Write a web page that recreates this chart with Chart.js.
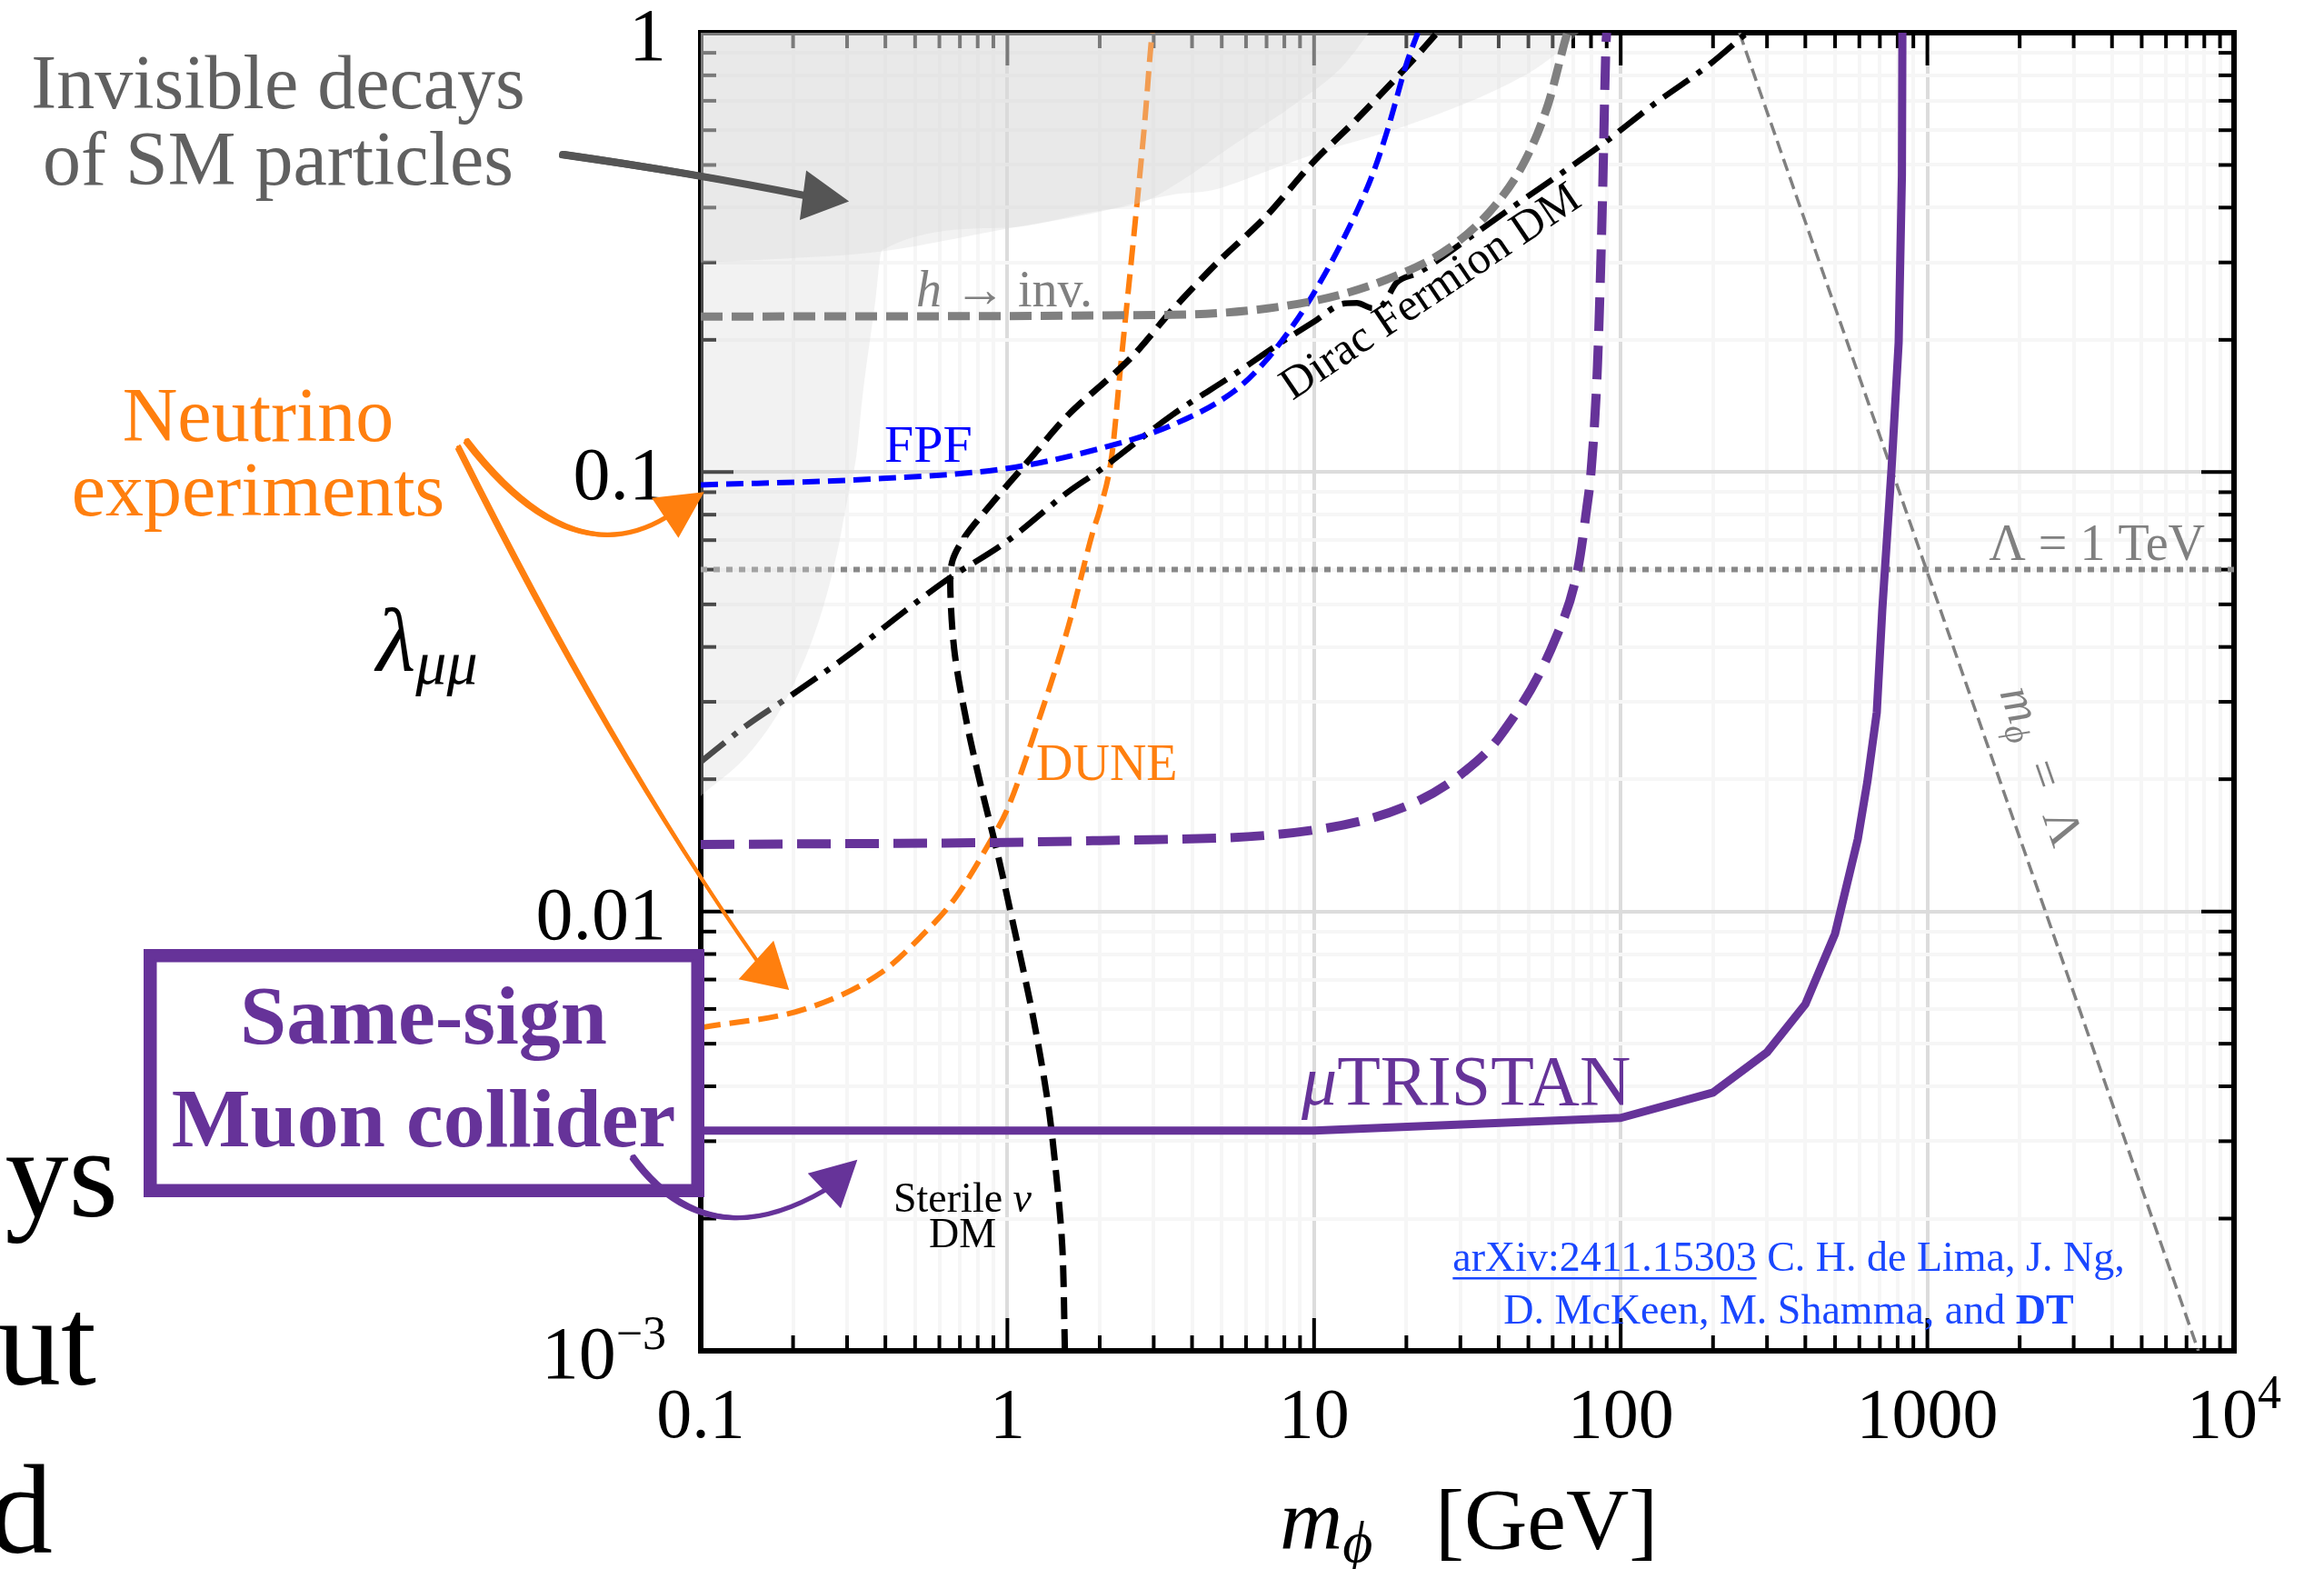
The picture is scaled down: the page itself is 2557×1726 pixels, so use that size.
<!DOCTYPE html>
<html>
<head>
<meta charset="utf-8">
<script src="https://cdn.jsdelivr.net/npm/chart.js@4.4.1/dist/chart.umd.min.js"></script>
<style>
  html, body { margin: 0; padding: 0; background: #fff; overflow: hidden; }
</style>
</head>
<body>
<canvas id="c" width="2557" height="1726"></canvas>
<script>
// axis ticks
const xTickValues = [0.1, 1, 10, 100, 1000, 10000];
const xTickLabels = ['0.1', '1', '10', '100', '1000', '10^4'];
const yTickValues = [0.001, 0.01, 0.1, 1];
const yTickLabels = ['10^-3', '0.01', '0.1', '1'];

// m_phi [GeV] / lambda_mumu
const hInvMass   = [0.1, 3.45, 9.9, 17.4, 27.5, 38.9, 49, 58, 66, 67];
const hInvLambda = [0.226, 0.228, 0.245, 0.275, 0.323, 0.404, 0.515, 0.688, 0.965, 1];

const fpfMass   = [0.1, 0.315, 1, 1.99, 3.45, 5.5, 6.9, 8.67, 9.9, 12.3, 15.5, 17.4, 20, 21.8];
const fpfLambda = [0.0935, 0.096, 0.102, 0.113, 0.128, 0.153, 0.178, 0.219, 0.253, 0.333, 0.475, 0.604, 0.848, 1];

const duneMass   = [0.1, 0.221, 0.389, 0.521, 0.674, 0.887, 1.0, 1.26, 1.58, 1.9, 2.0, 2.19, 2.34, 2.63, 2.81, 2.95, 2.97];
const duneLambda = [0.00544, 0.00601, 0.00727, 0.00875, 0.0107, 0.0146, 0.0171, 0.027, 0.0445, 0.0732, 0.082, 0.109, 0.174, 0.391, 0.636, 0.965, 1];

const sterileMass   = [1.54, 1.51, 1.43, 1.35, 1.21, 1.02, 0.93, 0.83, 0.74, 0.674, 0.652, 0.66, 0.724, 0.887, 1.17, 1.58, 2.51, 3.45, 4.89, 6.9, 9.9, 13.8, 20.9, 25.2];
const sterileLambda = [0.001, 0.00173, 0.00268, 0.00374, 0.0058, 0.0101, 0.0135, 0.0186, 0.0265, 0.0384, 0.053, 0.0624, 0.071, 0.0847, 0.106, 0.135, 0.181, 0.234, 0.302, 0.379, 0.506, 0.636, 0.863, 1];

const diracMass   = [0.1, 0.141, 0.198, 0.315, 0.446, 0.627, 1.0, 1.58, 2.0, 3.45, 5.5, 7.7, 9.9, 12.6, 13.8, 15.5, 16.7, 18.6, 21.8, 34.7, 43.7, 63, 87, 128.5, 195, 258];
const diracLambda = [0.0219, 0.0265, 0.0311, 0.0391, 0.0473, 0.0565, 0.0697, 0.0902, 0.101, 0.135, 0.167, 0.196, 0.219, 0.242, 0.2426, 0.236, 0.2397, 0.27, 0.284, 0.355, 0.398, 0.475, 0.557, 0.688, 0.847, 1];

const sameSignMass   = [0.1, 2, 9.85, 20.9, 30.9, 40.3, 61.5, 72.4, 77.6, 80, 84, 87, 89.5, 90];
const sameSignLambda = [0.0142, 0.0145, 0.0153, 0.0176, 0.0208, 0.025, 0.042, 0.06, 0.0834, 0.1, 0.175, 0.391, 0.935, 1];

const tristanMass   = [0.1, 10, 100, 200, 300, 400, 500, 593, 637, 684, 713, 764, 806, 826, 829];
const tristanLambda = [0.00317, 0.00317, 0.00339, 0.00387, 0.00478, 0.00615, 0.0089, 0.0146, 0.0197, 0.0284, 0.0487, 0.1016, 0.197, 0.473, 1];

const lambdaTeVMass   = [0.1, 10000];
const lambdaTeVLambda = [0.06, 0.06];

const mEqLambdaMass   = [244, 7650];
const mEqLambdaLambda = [1, 0.001];

// shaded "invisible decays" regions (lower edge, filled up to 1)
const invUpperMass   = [0.1, 0.17, 0.39, 1, 1.8, 3.45, 4.65, 6.9, 10.9, 17.4, 27.5, 43.7, 55.6, 69.4, 73];
const invUpperLambda = [0.30, 0.305, 0.318, 0.358, 0.385, 0.428, 0.438, 0.482, 0.54, 0.595, 0.667, 0.769, 0.848, 0.965, 1];
const invLeftMass   = [0.1, 0.147, 0.198, 0.25, 0.281, 0.3, 0.322, 0.337, 0.37, 0.39, 1, 1.78, 2.8, 3.6, 5.5, 8.67, 12.3, 15.1];
const invLeftLambda = [0.0183, 0.0233, 0.0322, 0.0489, 0.0676, 0.086, 0.1094, 0.1487, 0.2415, 0.32, 0.36, 0.388, 0.413, 0.455, 0.557, 0.688, 0.834, 1];

const PURPLE = '#663399';
const ORANGE = '#ff7f0e';
const SHADE = 'rgba(217,217,217,0.34)';
const SERIF = '"Liberation Serif", "DejaVu Serif", serif';
const F = (size, style) => (style || '') + ' ' + size + 'px ' + SERIF;

function logTicks(lo, hi) {
  const out = [];
  for (let e = lo; e < hi; e++)
    for (let k = 1; k < 10; k++) out.push(+(k * Math.pow(10, e)).toPrecision(3));
  out.push(Math.pow(10, hi));
  return out;
}
const isMajor = v => Math.abs(Math.log10(v) - Math.round(Math.log10(v))) < 1e-9;

function series(label, xs, ys, style) {
  return Object.assign({
    label,
    data: xs.map((x, i) => ({ x, y: ys[i] })),
    pointRadius: 0,
    borderCapStyle: 'butt',
    fill: false,
    clip: 0,
    cubicInterpolationMode: 'monotone'
  }, style);
}

// frame and inward ticks, under the curves
const frameTicks = {
  id: 'frameTicks',
  beforeDatasetsDraw(chart) {
    const { ctx, chartArea: a, scales: { x, y } } = chart;
    ctx.save();
    ctx.strokeStyle = '#000';
    ctx.lineWidth = 4;
    const seg = (x0, y0, x1, y1) => { ctx.beginPath(); ctx.moveTo(x0, y0); ctx.lineTo(x1, y1); ctx.stroke(); };
    x.ticks.forEach(t => {
      const px = x.getPixelForValue(t.value);
      const L = isMajor(t.value) ? 36 : 17;
      seg(px, a.bottom, px, a.bottom - L);
      seg(px, a.top, px, a.top + L);
    });
    y.ticks.forEach(t => {
      const py = y.getPixelForValue(t.value);
      const L = isMajor(t.value) ? 36 : 17;
      seg(a.left, py, a.left + L, py);
      seg(a.right, py, a.right - L, py);
    });
    ctx.lineWidth = 6;
    ctx.strokeRect(a.left, a.top, a.right - a.left, a.bottom - a.top);
    ctx.restore();
  }
};

function drawRuns(ctx, x, y, parts, align) {
  let w = 0;
  parts.forEach(p => { ctx.font = p[1]; w += ctx.measureText(p[0]).width; });
  let cx = align === 'center' ? x - w / 2 : align === 'right' ? x - w : x;
  ctx.textAlign = 'left';
  parts.forEach(p => {
    ctx.font = p[1];
    ctx.fillText(p[0], cx, y + (p[2] || 0));
    cx += ctx.measureText(p[0]).width;
  });
  return w;
}

function tickLabel(ctx, txt, x, y, align, size) {
  const [base, exp] = txt.split('^');
  const parts = [[base, F(size)]];
  if (exp) parts.push([exp.replace('-', '\u2212'), F(52), -32]);
  drawRuns(ctx, x, y, parts, align);
}

function sketchArrow(ctx, p0, c, p2, tip, half, color, width) {
  ctx.strokeStyle = color;
  ctx.fillStyle = color;
  ctx.lineCap = 'round';
  [[0, 0, width], [2, -2, width * 0.5], [-2, 2, width * 0.5]].forEach(([ox, oy, lw]) => {
    ctx.lineWidth = lw;
    ctx.beginPath();
    ctx.moveTo(p0[0] + ox, p0[1] + oy);
    ctx.quadraticCurveTo(c[0] + ox, c[1] + oy, p2[0], p2[1]);
    ctx.stroke();
  });
  const dx = tip[0] - p2[0], dy = tip[1] - p2[1], L = Math.hypot(dx, dy);
  const nx = -dy / L, ny = dx / L;
  ctx.beginPath();
  ctx.moveTo(tip[0], tip[1]);
  ctx.lineTo(p2[0] + nx * half, p2[1] + ny * half);
  ctx.lineTo(p2[0] - nx * half, p2[1] - ny * half);
  ctx.closePath();
  ctx.fill();
  ctx.lineWidth = 3;
  ctx.stroke();
}

const annotations = {
  id: 'annotations',
  afterDraw(chart) {
    const { ctx, scales: { x, y } } = chart;
    ctx.save();
    ctx.textBaseline = 'alphabetic';

    // tick labels
    ctx.fillStyle = '#000';
    xTickValues.forEach((v, i) => tickLabel(ctx, xTickLabels[i], x.getPixelForValue(v), 1581, 'center', 78));
    yTickValues.forEach((v, i) => tickLabel(ctx, yTickLabels[i], 733, y.getPixelForValue(v) + 30, 'right', 82));

    // axis titles
    drawRuns(ctx, 414, 738, [['\u03bb', F(100, 'italic')], ['\u03bc\u03bc', F(68, 'italic'), 14]], 'left');
    drawRuns(ctx, 1408, 1704, [['m', F(96, 'italic')], ['\u03d5', F(64, 'italic'), 14]], 'left');
    drawRuns(ctx, 1579, 1704, [['[GeV]', F(96)]], 'left');

    // text cut off at the left edge
    ctx.font = F(140);
    ctx.textAlign = 'right';
    ctx.fillText('ys', 130, 1338);
    ctx.fillText('ut', 106, 1523);
    ctx.fillText('d', 58, 1708);

    // curve labels inside the plot
    ctx.fillStyle = '#808080';
    drawRuns(ctx, 1008, 337, [['h', F(56, 'italic')], [' \u2192 inv.', F(56)]], 'left');
    ctx.font = F(56);
    ctx.textAlign = 'right';
    ctx.fillText('\u039b = 1 TeV', 2426, 616);

    ctx.fillStyle = '#0000ff';
    ctx.font = F(58);
    ctx.textAlign = 'left';
    ctx.fillText('FPF', 973, 508);

    ctx.fillStyle = ORANGE;
    ctx.font = F(56);
    ctx.fillText('DUNE', 1140, 858);

    ctx.fillStyle = '#000';
    drawRuns(ctx, 1059, 1333, [['Sterile ', F(46)], ['\u03bd', F(46, 'italic')]], 'center');
    drawRuns(ctx, 1059, 1372, [['DM', F(46)]], 'center');

    ctx.save();
    ctx.translate(1422, 441);
    ctx.rotate(-34 * Math.PI / 180);
    drawRuns(ctx, 0, 0, [['Dirac Fermion DM', F(50)]], 'left');
    ctx.restore();

    ctx.save();
    ctx.fillStyle = '#808080';
    ctx.translate(2200, 762);
    ctx.rotate(70.8 * Math.PI / 180);
    drawRuns(ctx, 0, 0, [['m', F(54, 'italic')], ['\u03d5', F(38, 'italic'), 9], ['  =  \u039b', F(54)]], 'left');
    ctx.restore();

    ctx.fillStyle = PURPLE;
    drawRuns(ctx, 1432, 1215, [['\u03bc', F(78, 'italic')], ['TRISTAN', F(78)]], 'left');

    // citation
    ctx.fillStyle = '#1a47ff';
    const w1 = drawRuns(ctx, 1968, 1398, [['arXiv:2411.15303', F(46)], [' C. H. de Lima, J. Ng,', F(46)]], 'center');
    ctx.font = F(46);
    const wArx = ctx.measureText('arXiv:2411.15303').width;
    ctx.fillRect(1968 - w1 / 2, 1405, wArx, 2.5);
    drawRuns(ctx, 1968, 1456, [['D. McKeen, M. Shamma, and ', F(46)], ['DT', F(46, 'bold')]], 'center');

    // side notes
    ctx.fillStyle = '#606060';
    drawRuns(ctx, 306, 119, [['Invisible decays', F(84)]], 'center');
    drawRuns(ctx, 306, 203, [['of SM particles', F(84)]], 'center');
    ctx.fillStyle = ORANGE;
    drawRuns(ctx, 284, 485, [['Neutrino', F(84)]], 'center');
    drawRuns(ctx, 284, 567, [['experiments', F(84)]], 'center');

    // arrows
    sketchArrow(ctx, [619, 170], [760, 190], [885, 215], [931, 221], 25, '#555555', 8);
    sketchArrow(ctx, [513, 485], [627, 633], [733, 569], [772, 543], 24, ORANGE, 5);
    sketchArrow(ctx, [504, 492], [671, 826], [833, 1057], [866, 1087], 26, ORANGE, 4);
    sketchArrow(ctx, [696, 1273], [778, 1385], [908, 1309], [941, 1278], 24, PURPLE, 5);

    // same-sign muon collider box
    ctx.strokeStyle = PURPLE;
    ctx.lineWidth = 14;
    ctx.lineCap = 'butt';
    ctx.strokeRect(165, 1051, 603, 259);
    ctx.lineWidth = 3;
    ctx.strokeRect(160, 1046, 613, 269);
    ctx.strokeRect(171, 1057, 591, 247);
    ctx.fillStyle = PURPLE;
    drawRuns(ctx, 466, 1148, [['Same-sign', F(92, 'bold')]], 'center');
    drawRuns(ctx, 466, 1261, [['Muon collider', F(92, 'bold')]], 'center');

    ctx.restore();
  }
};

const gridColor = c => isMajor(c.tick.value) ? '#dcdcdc' : '#f6f6f6';

new Chart(document.getElementById('c'), {
  type: 'line',
  data: {
    datasets: [
      series('invisible decays (upper)', invUpperMass, invUpperLambda,
        { fill: 'end', backgroundColor: SHADE, borderColor: 'rgba(0,0,0,0)', borderWidth: 0, order: 4 }),
      series('Sterile nu DM', sterileMass, sterileLambda,
        { borderColor: '#000', borderWidth: 7, borderDash: [24, 11], cubicInterpolationMode: 'default', tension: 0.3, order: 3 }),
      series('Dirac Fermion DM', diracMass, diracLambda,
        { borderColor: '#000', borderWidth: 6.5, borderDash: [34, 11, 6, 11], order: 3 }),
      series('DUNE', duneMass, duneLambda,
        { borderColor: ORANGE, borderWidth: 6, borderDash: [22, 10], order: 3 }),
      series('Lambda = 1 TeV', lambdaTeVMass, lambdaTeVLambda,
        { borderColor: '#888888', borderWidth: 6, borderDash: [7, 7], order: 3 }),
      series('m_phi = Lambda', mEqLambdaMass, mEqLambdaLambda,
        { borderColor: '#808080', borderWidth: 3.5, borderDash: [14, 7], order: 3 }),
      series('invisible decays (left)', invLeftMass, invLeftLambda,
        { fill: 'end', backgroundColor: SHADE, borderColor: 'rgba(0,0,0,0)', borderWidth: 0, order: 2 }),
      series('h -> inv.', hInvMass, hInvLambda,
        { borderColor: '#808080', borderWidth: 9, borderDash: [24, 10], order: 1 }),
      series('FPF', fpfMass, fpfLambda,
        { borderColor: '#0000ff', borderWidth: 6, borderDash: [19, 9], order: 1 }),
      series('Same-sign muon collider', sameSignMass, sameSignLambda,
        { borderColor: PURPLE, borderWidth: 10, borderDash: [37, 16], order: 0 }),
      series('muTRISTAN', tristanMass, tristanLambda,
        { borderColor: PURPLE, borderWidth: 9, cubicInterpolationMode: 'default', tension: 0, borderJoinStyle: 'round', order: 0 })
    ]
  },
  options: {
    responsive: false,
    devicePixelRatio: 1,
    animation: false,
    events: [],
    layout: { padding: { left: 771, right: 99, top: 36, bottom: 240 } },
    plugins: { legend: { display: false }, tooltip: { enabled: false } },
    scales: {
      x: {
        type: 'logarithmic', min: 0.1, max: 10000,
        ticks: { display: false },
        border: { display: false },
        grid: { color: gridColor, lineWidth: 4, drawTicks: false },
        afterBuildTicks: s => { s.ticks = logTicks(-1, 4).map(v => ({ value: v })); },
        afterFit: s => { s.height = 0; }
      },
      y: {
        type: 'logarithmic', min: 0.001, max: 1,
        ticks: { display: false },
        border: { display: false },
        grid: { color: gridColor, lineWidth: 4, drawTicks: false },
        afterBuildTicks: s => { s.ticks = logTicks(-3, 0).map(v => ({ value: v })); },
        afterFit: s => { s.width = 0; }
      }
    }
  },
  plugins: [frameTicks, annotations]
});
</script>
</body>
</html>
